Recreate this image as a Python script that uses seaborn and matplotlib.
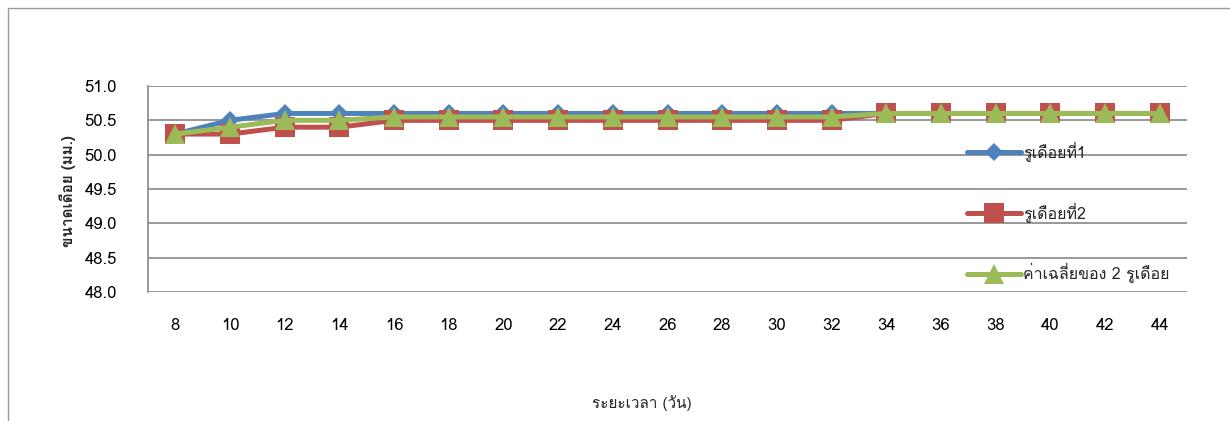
import matplotlib
matplotlib.use("Agg")
import matplotlib.pyplot as plt
import seaborn as sns
import pandas as pd
from matplotlib import font_manager
from matplotlib.ft2font import FT2Font
from matplotlib.lines import Line2D
from matplotlib.patches import Rectangle

# ---- data ----
days = [8, 10, 12, 14, 16, 18, 20, 22, 24, 26, 28, 30, 32, 34, 36, 38, 40, 42, 44]
hole1 = [50.3, 50.5, 50.6, 50.6, 50.6, 50.6, 50.6, 50.6, 50.6, 50.6, 50.6, 50.6, 50.6,
         50.6, 50.6, 50.6, 50.6, 50.6, 50.6]
hole2 = [50.3, 50.3, 50.4, 50.4, 50.5, 50.5, 50.5, 50.5, 50.5, 50.5, 50.5, 50.5, 50.5,
         50.6, 50.6, 50.6, 50.6, 50.6, 50.6]
avg = [50.3, 50.4, 50.5, 50.5, 50.55, 50.55, 50.55, 50.55, 50.55, 50.55, 50.55, 50.55, 50.55,
       50.6, 50.6, 50.6, 50.6, 50.6, 50.6]
series_names = ["รูเดือยที่1", "รูเดือยที่2", "ค่าเฉลี่ยของ 2 รูเดือย"]
y_ticks = [48.0, 48.5, 49.0, 49.5, 50.0, 50.5, 51.0]
x_label = "ระยะเวลา (วัน)"
y_label = "ขนาดเดือย (มม.)"

# ---- find a font with Thai glyphs ----
thai_font = None
preferred = []
others = []
for f in font_manager.fontManager.ttflist:
    try:
        cm = FT2Font(f.fname).get_charmap()
    except Exception:
        continue
    if 0x0E23 in cm:
        if "Thai" in f.name or "Loma" in f.name or "Garuda" in f.name:
            preferred.append(f.name)
        else:
            others.append(f.name)
cands = preferred + others
if cands:
    thai_font = cands[0]

sns.set_theme(style="white")
families = ([thai_font] if thai_font else []) + ["DejaVu Sans"]
plt.rcParams["font.family"] = families

colors = ["#4F81BD", "#C0504D", "#9BBB59"]
markers = ["D", "s", "^"]
msizes = [9, 14, 15]

df = pd.DataFrame({"day": days * 3,
                   "value": hole1 + hole2 + avg,
                   "series": [series_names[0]] * len(days) + [series_names[1]] * len(days)
                   + [series_names[2]] * len(days)})

fig = plt.figure(figsize=(12.3, 4.21), dpi=100)
ax = fig.add_axes([148 / 1230, 1 - 292 / 421, (1187 - 148) / 1230, (292 - 86) / 421])

for i, name in enumerate(series_names):
    sub = df[df["series"] == name]
    sns.lineplot(data=sub, x="day", y="value", ax=ax, color=colors[i], linewidth=3.6,
                 marker=markers[i], markersize=msizes[i], markeredgewidth=0,
                 legend=False, zorder=3 + i)

ax.set_xlim(days[0] - 1, days[-1] + 1)
ax.set_ylim(48.0, 51.0)
ax.set_yticks(y_ticks)
ax.set_yticklabels([f"{v:.1f}" for v in y_ticks], fontsize=12)
ax.set_xticks(days)
ax.set_xticklabels([str(d) for d in days], fontsize=12)
ax.yaxis.grid(True, color="#868686", linewidth=1.2)
ax.xaxis.grid(False)
for s in ["top", "right", "bottom"]:
    ax.spines[s].set_visible(False)
ax.spines["left"].set_color("#868686")
ax.spines["left"].set_linewidth(1.2)
ax.tick_params(axis="y", which="both", left=False, pad=16.5, labelcolor="black")
ax.tick_params(axis="x", bottom=False, pad=13, labelcolor="black")
ax.set_xlabel("")
ax.set_ylabel("")

fig.text(642 / 1230, 1 - 403 / 421, x_label, ha="center", va="center", fontsize=11)
fig.text(68 / 1230, 1 - 191 / 421, y_label, ha="center", va="center", rotation=90,
         fontsize=11, fontweight="bold")

handles = [Line2D([0], [0], color=colors[i], linewidth=3.6, marker=markers[i],
                  markersize=msizes[i], markeredgewidth=0) for i in range(3)]
leg = ax.legend(handles, series_names, loc="upper left",
                bbox_to_anchor=(967 / 1230, 1 - 142 / 421), bbox_transform=fig.transFigure,
                frameon=False, handlelength=3.4, handletextpad=0.1, labelspacing=2.55,
                fontsize=11.5, numpoints=1, borderaxespad=0, borderpad=0)

# outer chart border
fig.patches.append(Rectangle((8 / 1230, -0.1), 1.2, 1 - 8 / 421 + 0.1, transform=fig.transFigure,
                             fill=False, edgecolor="#9a9a9a", linewidth=1, zorder=0))

fig.savefig("out.png", dpi=100, facecolor="white")
